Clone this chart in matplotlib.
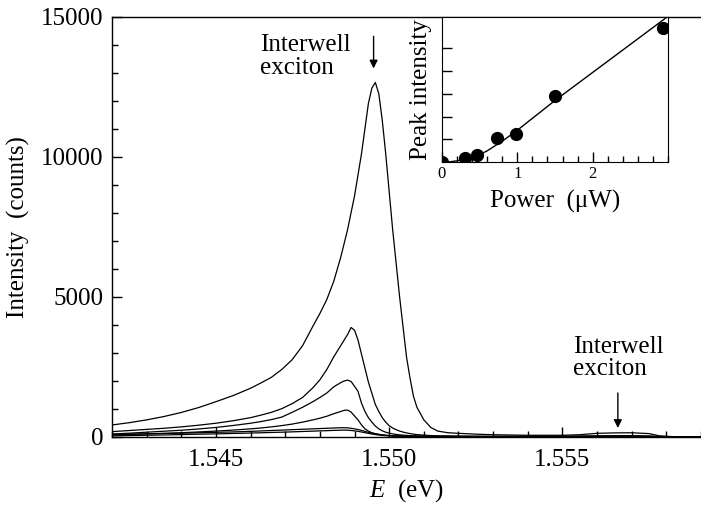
import matplotlib
matplotlib.use('Agg')
import matplotlib.pyplot as plt
from matplotlib.ticker import MultipleLocator, FixedLocator, NullLocator

plt.rcParams['font.family'] = ['Liberation Serif', 'DejaVu Serif']
plt.rcParams['mathtext.fontset'] = 'custom'
plt.rcParams['mathtext.it'] = 'Liberation Serif:italic'
plt.rcParams['mathtext.rm'] = 'Liberation Serif'

# ---------------- data ----------------
energy = [1.5420, 1.5425, 1.5430, 1.5435, 1.5440, 1.5445, 1.5450, 1.5455, 1.5460,
          1.5463, 1.5466, 1.5469, 1.5472, 1.5475, 1.5478, 1.5480, 1.5482, 1.5484,
          1.5486, 1.5487, 1.5488, 1.5489, 1.5490, 1.5491, 1.5492, 1.5493, 1.5494, 1.5495,
          1.5496, 1.5497, 1.5498, 1.5499, 1.5500, 1.5501, 1.5502, 1.5503, 1.5504, 1.5505,
          1.5506, 1.5507, 1.5508, 1.5510, 1.5512, 1.5514, 1.5517, 1.5520, 1.5525, 1.5530,
          1.5540, 1.5550, 1.5555, 1.5560, 1.5565, 1.5570, 1.5575, 1.5578, 1.5582, 1.5590]

intensity_1 = [418, 500, 600, 720, 865, 1040, 1250, 1470, 1730,
               1920, 2120, 2400, 2750, 3250, 3950, 4400, 4900, 5550,
               6400, 6900, 7400, 8000, 8600, 9350, 10100, 11000, 11900, 12450,
               12650, 12250, 11300, 10100, 8750, 7400, 6200, 5000, 3920, 2850,
               2100, 1450, 1050, 600, 330, 200, 140, 120, 90, 70,
               50, 50, 70, 120, 135, 140, 110, 30, 0, 0]
intensity_2 = [180, 220, 260, 300, 350, 410, 480, 570, 680,
               770, 870, 1000, 1180, 1400, 1750, 2030, 2400, 2850,
               3250, 3450, 3650, 3900, 3800, 3450, 2950, 2450, 1950, 1550,
               1150, 900, 680, 520, 390, 310, 250, 200, 165, 135,
               110, 90, 75, 55, 40, 30, 25, 20, 15, 10,
               10, 10, 20, 30, 35, 35, 25, 5, 0, 0]
intensity_3 = [95, 125, 160, 195, 230, 275, 330, 400, 480,
               540, 610, 700, 870, 1050, 1250, 1400, 1560, 1780,
               1930, 1990, 2020, 1970, 1800, 1620, 1200, 900, 680, 520,
               380, 280, 210, 160, 125, 100, 80, 65, 55, 45,
               38, 32, 27, 20, 15, 12, 10, 8, 5, 5,
               5, 5, 10, 15, 15, 15, 10, 0, 0, 0]
intensity_4 = [60, 80, 100, 120, 140, 170, 200, 235, 280,
               310, 350, 395, 450, 520, 600, 660, 730, 820,
               900, 940, 950, 880, 740, 600, 420, 280, 200, 140,
               110, 85, 65, 50, 40, 32, 26, 21, 17, 14,
               12, 10, 9, 7, 5, 5, 5, 5, 5, 5,
               5, 5, 5, 10, 10, 10, 5, 0, 0, 0]
intensity_5 = [80, 90, 100, 112, 125, 140, 155, 170, 190,
               205, 220, 235, 250, 265, 280, 290, 300, 310,
               320, 320, 315, 300, 280, 255, 225, 190, 155, 125,
               100, 80, 62, 50, 40, 32, 26, 21, 17, 14,
               12, 10, 9, 7, 5, 5, 5, 5, 5, 5,
               5, 5, 5, 5, 5, 5, 5, 0, 0, 0]
intensity_6 = [30, 40, 50, 62, 75, 88, 100, 115, 130,
               140, 150, 160, 172, 185, 198, 207, 215, 225,
               232, 235, 232, 222, 208, 190, 168, 143, 118, 95,
               75, 58, 45, 35, 28, 22, 18, 14, 11, 9,
               8, 7, 6, 5, 5, 5, 5, 5, 5, 5,
               5, 5, 5, 5, 5, 5, 5, 0, 0, 0]
spectra = [intensity_1, intensity_2, intensity_3, intensity_4, intensity_5, intensity_6]

power = [0.0, 0.30, 0.46, 0.73, 0.98, 1.50, 2.93]
peak_intensity = [0, 349, 611, 2153, 2444, 5818, 11695]
fit_power = [0.0, 0.1, 0.2, 0.3, 0.4, 0.5, 0.6, 0.8, 1.0, 1.5, 2.0, 2.5, 3.0]
fit_intensity = [0, 40, 130, 270, 450, 680, 1000, 1850, 2800, 5400, 7850, 10300, 12750]

# ---------------- figure ----------------
fig = plt.figure(figsize=(7.01, 5.08), dpi=100)
ax = fig.add_axes([0.1598, 0.1404, 0.8402, 0.8268])
for y in spectra:
    ax.plot(energy, y, color='black', lw=0.9)

ax.set_xlim(1.542, 1.559)
ax.set_ylim(0, 15000)
ax.spines['right'].set_visible(False)
for s in ['left', 'bottom', 'top']:
    ax.spines[s].set_linewidth(1.0)
ax.xaxis.set_major_locator(FixedLocator([1.545, 1.550, 1.555]))
ax.xaxis.set_minor_locator(MultipleLocator(0.001))
ax.yaxis.set_major_locator(MultipleLocator(5000))
ax.yaxis.set_minor_locator(MultipleLocator(1000))
ax.set_xticklabels(['1.545', '1.550', '1.555'])
ax.tick_params(which='both', direction='in', top=False, right=False, labelsize=18)
ax.tick_params(which='major', length=7, width=1.0)
ax.tick_params(which='minor', length=4, width=1.0)
ax.tick_params(axis='x', pad=9)
ax.tick_params(axis='y', pad=6)
ax.set_xlabel('$E$  (eV)', fontsize=18, labelpad=4)
ax.set_ylabel('Intensity  (counts)', fontsize=18, labelpad=8)

ax.text(1.54628, 14390, 'Interwell\nexciton', fontsize=18, ha='left', va='top',
        linespacing=1.05)
ax.annotate('', xy=(1.54955, 13150), xytext=(1.54955, 14300),
            arrowprops=dict(arrowstyle='-|>', color='black', lw=1.0,
                            mutation_scale=12, shrinkA=0, shrinkB=0))
ax.text(1.5553, 3610, 'Interwell\nexciton', fontsize=18, ha='left', va='top',
        linespacing=1.05)
ax.annotate('', xy=(1.5566, 310), xytext=(1.5566, 1560),
            arrowprops=dict(arrowstyle='-|>', color='black', lw=1.0,
                            mutation_scale=12, shrinkA=0, shrinkB=0))

# ---------------- inset ----------------
ins = fig.add_axes([0.6305, 0.6805, 0.3224, 0.2866])
ins.plot(fit_power, fit_intensity, color='black', lw=1.0)
ins.plot(power, peak_intensity, 'o', color='black', markersize=8.5)
ins.set_xlim(0, 3.0)
ins.set_ylim(0, 12720)
ins.xaxis.set_major_locator(FixedLocator([0, 1, 2]))
ins.xaxis.set_minor_locator(MultipleLocator(0.2))
ins.yaxis.set_major_locator(FixedLocator([2000, 4000, 6000, 8000, 10000]))
ins.yaxis.set_minor_locator(NullLocator())
ins.set_yticklabels([])
ins.tick_params(which='both', direction='in', top=False, right=False, labelsize=12)
ins.tick_params(which='major', length=7, width=1.0)
ins.tick_params(which='minor', length=4, width=1.0)
ins.tick_params(axis='x', pad=3)
ins.set_xlabel('Power  (μW)', fontsize=18, labelpad=5)
ins.set_ylabel('Peak intensity', fontsize=18, labelpad=4)

fig.savefig('out.png', dpi=100)
